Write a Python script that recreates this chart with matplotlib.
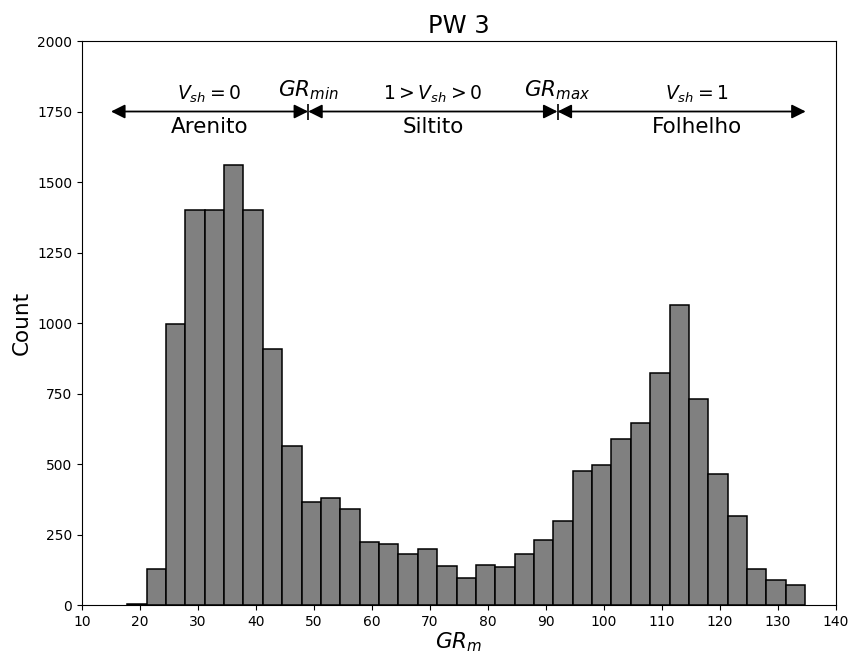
import numpy as np
import matplotlib
matplotlib.use("Agg")
import matplotlib.pyplot as plt

# Histogram counts of GR_m for well PW 3 (35 bins)
counts = [4, 129, 995, 1402, 1402, 1562, 1402, 909, 565, 367, 380, 342,
          224, 215, 180, 199, 137, 97, 141, 135, 182, 231, 297, 476,
          497, 590, 644, 821, 1064, 729, 463, 317, 127, 87, 72]
gr_low, gr_high = 17.8, 134.7
edges = np.linspace(gr_low, gr_high, len(counts) + 1)

# Cutoffs and zone labels
gr_min, gr_max = 49.0, 92.0
arrow_start, arrow_end = 15.0, 134.8
label_bounds = [15.0, gr_min, gr_max, 140.0]
zones = ["Arenito", "Siltito", "Folhelho"]
vsh_labels = [r"$V_{sh}=0$", r"$1>V_{sh}>0$", r"$V_{sh}=1$"]

fig = plt.figure(figsize=(8.48, 6.53), dpi=100)
ax = fig.add_axes([0.0967, 0.0735, 0.889, 0.8637])

ax.bar(edges[:-1], counts, width=np.diff(edges), align='edge',
       color='gray', edgecolor='black', linewidth=1.1)

# Arrows for the three zones
bounds = [arrow_start, gr_min, gr_max, arrow_end]
y_arrow = 1750
for i in range(3):
    ax.annotate('', xy=(bounds[i + 1], y_arrow), xytext=(bounds[i], y_arrow),
                arrowprops=dict(arrowstyle='<|-|>', color='black', lw=1.3,
                                mutation_scale=21, shrinkA=0, shrinkB=0))
    mid = (label_bounds[i] + label_bounds[i + 1]) / 2
    ax.text(mid, 1810, vsh_labels[i], ha='center', va='center', fontsize=13.5)
    ax.text(mid, 1695, zones[i], ha='center', va='center', fontsize=15.5)

# Cutoff markers
ax.plot([gr_min, gr_max], [y_arrow, y_arrow], linestyle='none', marker='|',
        color='black', markersize=12, markeredgewidth=1.2)
ax.text(gr_min, 1825, r"$GR_{min}$", ha='center', va='center', fontsize=15.5)
ax.text(gr_max, 1825, r"$GR_{max}$", ha='center', va='center', fontsize=15.5)

ax.set_xlim(10, 140)
ax.set_ylim(0, 2000)
ax.set_xticks(np.arange(10, 141, 10))
ax.set_yticks(np.arange(0, 2001, 250))
ax.set_title("PW 3", fontsize=17.5)
ax.set_xlabel(r"$GR_m$", fontsize=15.5, labelpad=1)
ax.set_ylabel("Count", fontsize=15.5)

fig.savefig("out.png", dpi=100)
